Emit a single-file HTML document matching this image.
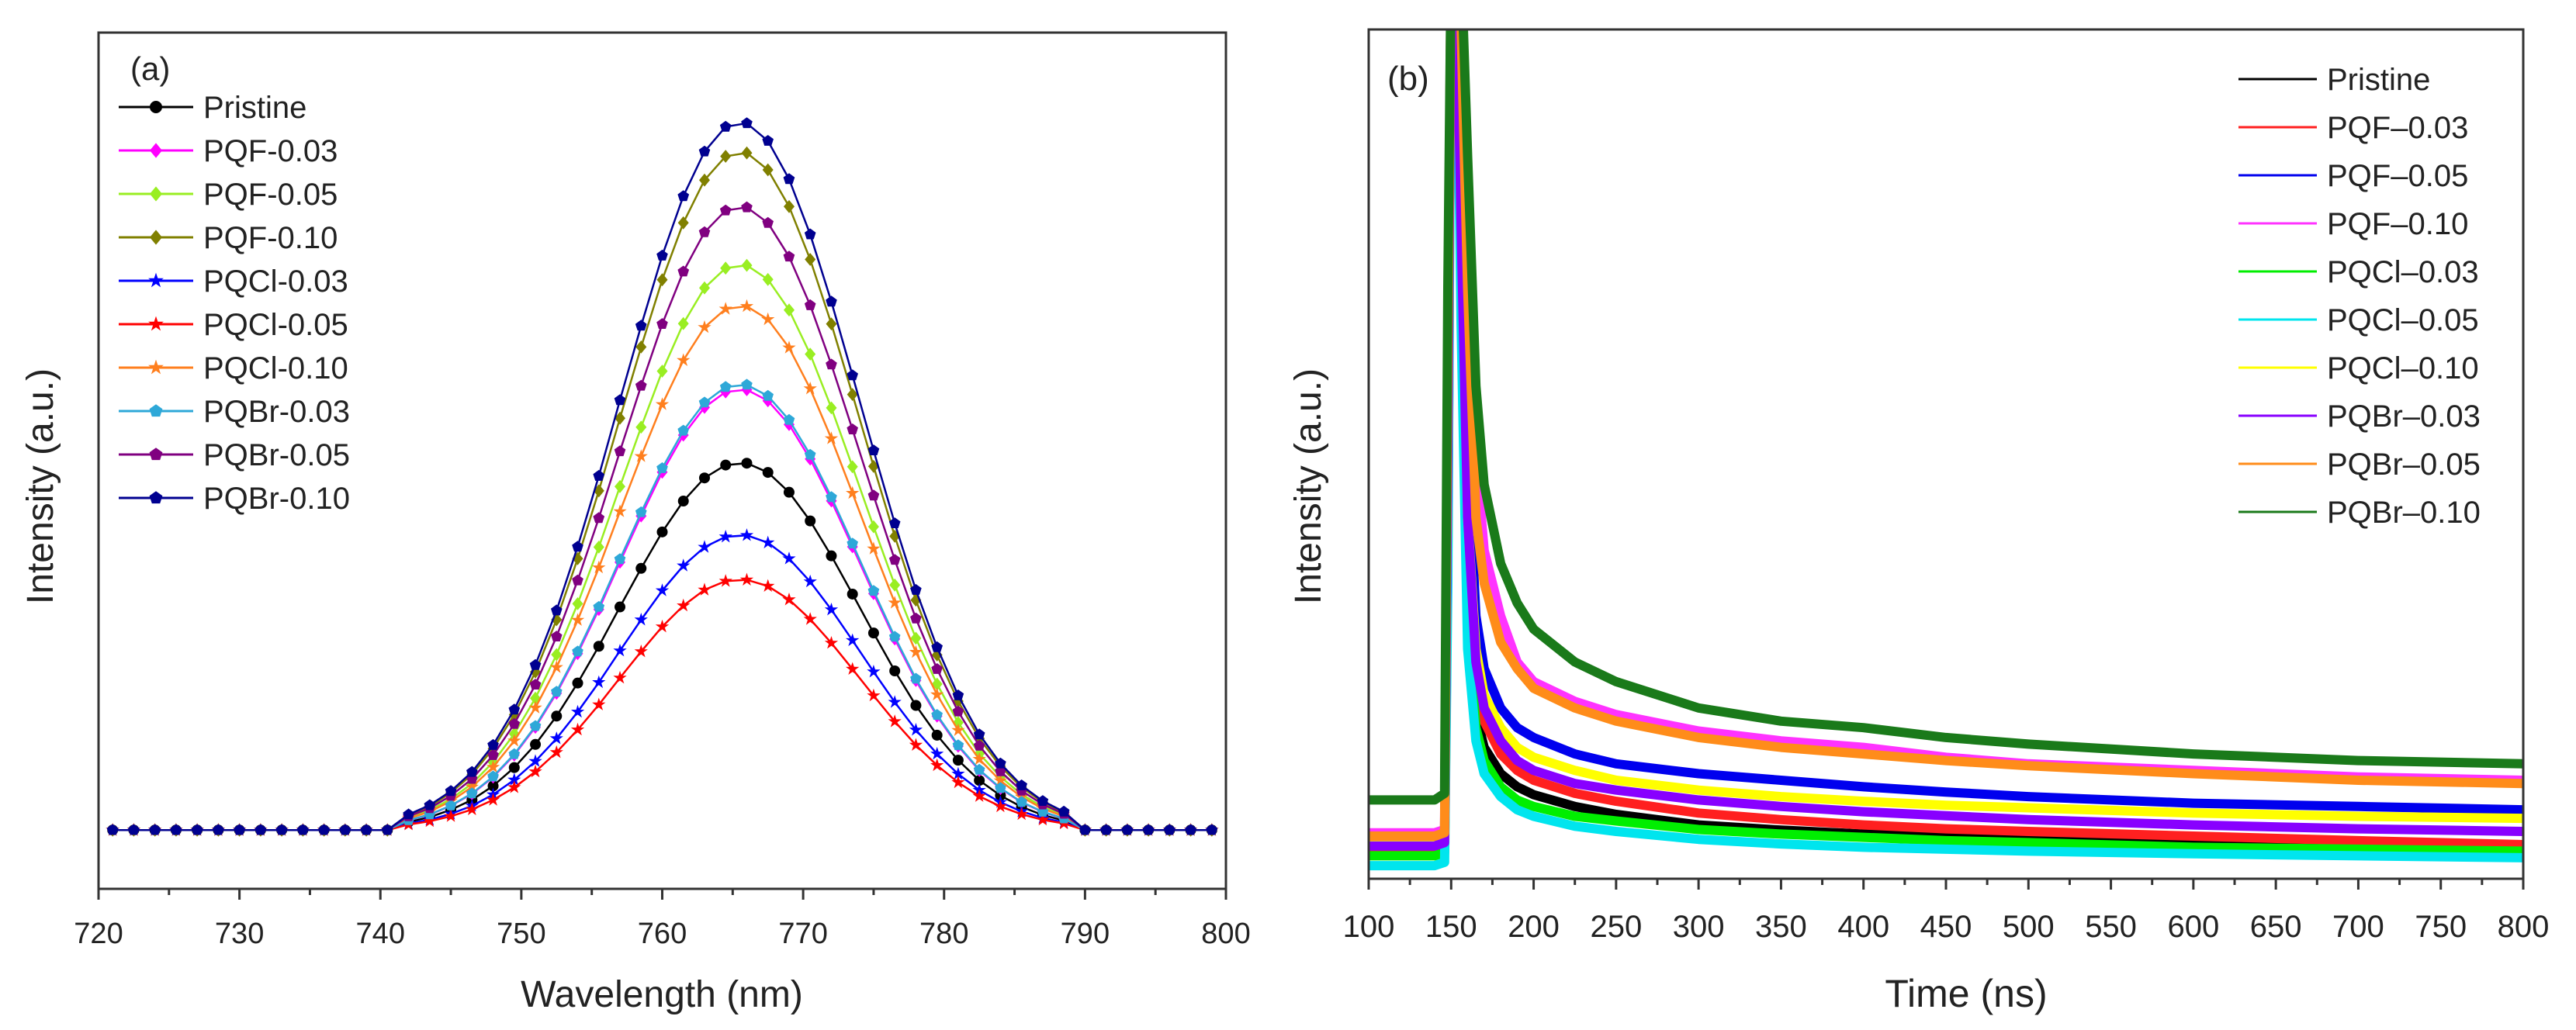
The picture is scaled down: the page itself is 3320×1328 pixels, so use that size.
<!DOCTYPE html>
<html><head><meta charset="utf-8"><style>
html,body{margin:0;padding:0;background:#fff;overflow:hidden;}
svg{display:block;font-family:"Liberation Sans",Arial,sans-serif;}
</style></head><body>
<svg id="fig" width="3320" height="1328" viewBox="0 0 3320 1328" xmlns="http://www.w3.org/2000/svg">
<defs>
<clipPath id="clipA"><rect x="127" y="42" width="1453" height="1104"/></clipPath>
<clipPath id="clipB"><rect x="1764" y="38" width="1488" height="1095"/></clipPath>
</defs>
<g id="panelA"></g>
<g id="panelB"></g>
</svg>
<script>
// ---------- Panel (a) data ----------
const wlStart = 721, wlStep = 1.5;
const profile = [0,0,0,0,0,0,0,0,0,0,0,0,0,0,0.022,0.035,0.055,0.082,0.120,0.170,0.233,0.310,0.400,0.500,0.607,0.712,0.811,0.895,0.958,0.993,0.998,0.973,0.919,0.841,0.746,0.642,0.536,0.433,0.339,0.258,0.190,0.135,0.094,0.063,0.041,0.026,0,0,0,0,0,0,0];
const namesA = ["Pristine","PQF-0.03","PQF-0.05","PQF-0.10","PQCl-0.03","PQCl-0.05","PQCl-0.10","PQBr-0.03","PQBr-0.05","PQBr-0.10"];
const peaksA = [51.9,62.3,79.9,95.8,41.7,35.4,74.1,63.0,88.1,100];
const colorsA = ["#000000","#ff00ff","#99ee22","#808000","#0000ff","#ff0000","#ff7f1e","#2ea8d8","#800080","#000090"];
const markersA = ["circle","diamond","diamond","diamond","star","star","star","pentagon","pentagon","pentagon"];
const ticksA = [720,730,740,750,760,770,780,790,800];

// ---------- Panel (b) data ----------
const times = [100,140,146,148,150,153,156,160,165,170,180,190,200,225,250,300,350,400,450,500,600,700,800];
const namesB = ["Pristine","PQF\u20130.03","PQF\u20130.05","PQF\u20130.10","PQCl\u20130.03","PQCl\u20130.05","PQCl\u20130.10","PQBr\u20130.03","PQBr\u20130.05","PQBr\u20130.10"];
const colorsB = ["#000000","#ff2020","#0000ee","#ff33ff","#00ee00","#00e5ee","#ffff00","#8800ff","#ff8c1a","#1a7a1a"];
const sPristine = [45,45,50,600,1400,1400,900,400,250,200,160,140,128,110,98,82,74,68,64,60,53,48,43];
const sPQF03 = [40,40,45,600,1400,1400,1000,500,300,240,190,165,150,130,118,100,90,82,76,72,65,58,52];
const sPQF05 = [60,60,65,700,1400,1400,1100,650,400,320,260,230,215,190,175,160,150,140,132,125,115,110,105];
const sPQF10 = [70,70,75,800,1400,1400,1400,1000,650,500,400,330,300,270,250,225,210,200,185,175,165,155,150];
const sPQCl03 = [35,35,40,500,1400,1400,900,400,230,180,140,120,110,95,88,75,68,63,58,55,48,45,42];
const sPQCl05 = [20,20,25,450,1400,1400,850,350,210,160,125,105,95,80,72,60,53,48,45,42,38,35,32];
const sPQCl10 = [55,55,60,650,1400,1400,1050,550,350,280,230,200,185,165,150,135,125,118,112,108,100,95,92];
const sPQBr03 = [50,50,55,650,1400,1400,1000,550,330,260,210,180,165,145,135,120,110,102,96,90,82,76,72];
const sPQBr05 = [65,65,70,800,1400,1400,1300,900,550,450,360,320,290,260,240,215,200,190,180,172,160,150,145];
const sPQBr10 = [120,120,130,900,1400,1400,1400,1100,750,600,480,420,380,330,300,260,240,230,215,205,190,180,175];
const seriesB = [sPristine,sPQF03,sPQF05,sPQF10,sPQCl03,sPQCl05,sPQCl10,sPQBr03,sPQBr05,sPQBr10];
const ticksB = [100,150,200,250,300,350,400,450,500,550,600,650,700,750,800];

const NS = "http://www.w3.org/2000/svg";
function mk(parent, tag, attrs, text){
  const e = document.createElementNS(NS, tag);
  for (const k in attrs) e.setAttribute(k, attrs[k]);
  if (text !== undefined) e.textContent = text;
  parent.appendChild(e);
  return e;
}

// ---------- Panel (a) ----------
const A = document.getElementById("panelA");
const axL=127, axR=1580, axT=42, axB=1146, yMin=-8.3, yMax=112.6;
const xA = v => axL + (v-720)/80*(axR-axL);
const yA = v => axB - (v-yMin)/(yMax-yMin)*(axB-axT);

function marker(g, type, cx, cy, color, r){
  let el;
  if (type==="circle") el = mk(g,"circle",{cx:cx,cy:cy,r:r,fill:color});
  else {
    let pts=[];
    if (type==="diamond") pts=[[0,-r*1.2],[r,0],[0,r*1.2],[-r,0]];
    else if (type==="pentagon") for(let i=0;i<5;i++){const a=-Math.PI/2+i*2*Math.PI/5;pts.push([r*1.1*Math.cos(a),r*1.1*Math.sin(a)]);}
    else for(let i=0;i<10;i++){const a=-Math.PI/2+i*Math.PI/5;const rr=i%2?r*0.5:r*1.3;pts.push([rr*Math.cos(a),rr*Math.sin(a)]);}
    el = mk(g,"polygon",{points:pts.map(p=>(cx+p[0]).toFixed(1)+","+(cy+p[1]).toFixed(1)).join(" "),fill:color});
  }
  return el;
}

const plotA = mk(A,"g",{"clip-path":"url(#clipA)"});


namesA.forEach((nm,si)=>{
  const g = mk(plotA,"g",{});
  
  
  const pts = profile.map((p,i)=>[xA(wlStart+i*wlStep), yA(p*peaksA[si])]);
  mk(g,"polyline",{points:pts.map(p=>p[0].toFixed(1)+","+p[1].toFixed(1)).join(" "),fill:"none",stroke:colorsA[si],"stroke-width":2.5});
  pts.forEach(p=>{
    const m = marker(g, markersA[si], p[0], p[1], colorsA[si], 7);
    
    
  });
});
const frameA = mk(A,"rect",{x:axL,y:axT,width:axR-axL,height:axB-axT,fill:"none",stroke:"#333", "stroke-width":3});


for(let v=720; v<=800; v+=5){
  const major = v%10===0;
  const t = mk(A,"line",{x1:xA(v),x2:xA(v),y1:axB,y2:axB+(major?14:8),stroke:"#333","stroke-width":3});
  
  
}
ticksA.forEach(v=>{
  const t = mk(A,"text",{x:xA(v),y:1216,"font-size":38,"text-anchor":"middle",fill:"#222"},String(v));
  
  
});
let t1 = mk(A,"text",{x:853,y:1298,"font-size":48,"text-anchor":"middle",fill:"#222"},"Wavelength (nm)");


let t2 = mk(A,"text",{x:0,y:0,"font-size":48,"text-anchor":"middle",fill:"#222",transform:"translate(68,627) rotate(-90)"},"Intensity (a.u.)");


let t3 = mk(A,"text",{x:168,y:103,"font-size":42,fill:"#222"},"(a)");


namesA.forEach((nm,si)=>{
  const y = 138 + si*56;
  const g = mk(A,"g",{});
  
  
  mk(g,"line",{x1:153,x2:249,y1:y,y2:y,stroke:colorsA[si],"stroke-width":3});
  marker(g, markersA[si], 201, y, colorsA[si], 8);
  mk(g,"text",{x:262,y:y+14,"font-size":40,fill:"#222"},nm);
});

// ---------- Panel (b) ----------
const B = document.getElementById("panelB");
const bL=1764, bR=3252, bT=38, bB=1133;
const xB = v => bL + (v-100)/700*(bR-bL);
const yB = v => bB - v/1293*(bB-bT);
const plotB = mk(B,"g",{"clip-path":"url(#clipB)"});


seriesB.forEach((s,si)=>{
  const p = mk(plotB,"polyline",{points:s.map((v,i)=>xB(times[i]).toFixed(1)+","+yB(v).toFixed(1)).join(" "),fill:"none",stroke:colorsB[si],"stroke-width":12,"stroke-linejoin":"round"});
  
  
});
const frameB = mk(B,"rect",{x:bL,y:bT,width:bR-bL,height:bB-bT,fill:"none",stroke:"#333","stroke-width":3});


for(let v=100; v<=800; v+=25){
  const major = v%50===0;
  const t = mk(B,"line",{x1:xB(v),x2:xB(v),y1:bB,y2:bB+(major?14:8),stroke:"#333","stroke-width":3});
  
  
}
ticksB.forEach(v=>{
  const t = mk(B,"text",{x:xB(v),y:1208,"font-size":40,"text-anchor":"middle",fill:"#222"},String(v));
  
  
});
let t4 = mk(B,"text",{x:2534,y:1298,"font-size":50,"text-anchor":"middle",fill:"#222"},"Time (ns)");


let t5 = mk(B,"text",{x:0,y:0,"font-size":48,"text-anchor":"middle",fill:"#222",transform:"translate(1702,627) rotate(-90)"},"Intensity (a.u.)");


let t6 = mk(B,"text",{x:1788,y:116,"font-size":44,fill:"#222"},"(b)");


namesB.forEach((nm,si)=>{
  const y = 102 + si*62;
  const g = mk(B,"g",{});
  
  
  mk(g,"line",{x1:2885,x2:2986,y1:y,y2:y,stroke:colorsB[si],"stroke-width":3});
  mk(g,"text",{x:2999,y:y+14,"font-size":40,fill:"#222"},nm);
});
</script>
</body></html>
